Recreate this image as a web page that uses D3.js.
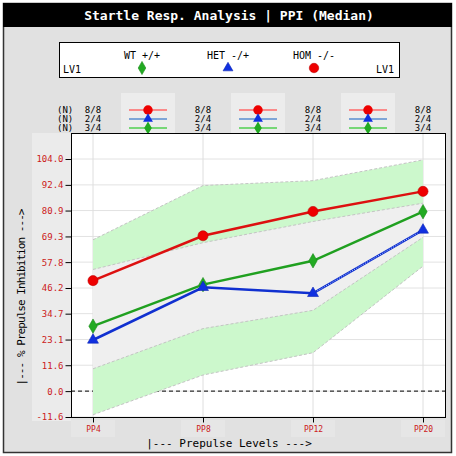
<!DOCTYPE html>
<html>
<head>
<meta charset="utf-8">
<script src="https://cdn.jsdelivr.net/npm/d3@7"></script>
<style>
	body { margin: 0; background: #fff; }
	svg { display: block; }
</style>
</head>
<body>
<svg id="chart"></svg>
<script>
// prepulse levels on the x axis
var levels = ["PP4", "PP8", "PP12", "PP20"];
var yTicks = [-11.6, 0.0, 11.6, 23.1, 34.7, 46.2, 57.8, 69.3, 80.9, 92.4, 104.0];

// medians per genotype
var wtMedian = [29.1, 47.7, 58.4, 80.4];
var hetMedian = [22.9, 46.5, 43.8, 72.2];
var homMedian = [49.5, 69.6, 80.5, 89.5];

// reference ranges (outer = green, inner = grey)
var outerUpper = [67.8, 92.1, 94.3, 103.6];
var outerLower = [-10.6, 7.2, 17.2, 56.0];
var innerUpper = [54.5, 66.5, 76.0, 84.2];
var innerLower = [10.0, 28.0, 36.2, 68.9];

// (N) counts, rows top to bottom: HOM, HET, WT
var nHom = ["8/8", "8/8", "8/8", "8/8"];
var nHet = ["2/4", "2/4", "2/4", "2/4"];
var nWt = ["3/4", "3/4", "3/4", "3/4"];

var legendNames = ["WT +/+", "HET -/+", "HOM -/-"];

var width = 456, height = 456;
var plot = { left: 71, right: 445, top: 133, bottom: 417 };
var mono = "'DejaVu Sans Mono', 'Liberation Mono', monospace";

var svg = d3.select("#chart")
	.attr("width", width)
	.attr("height", height);

// outer panel + title bar
svg.append("rect")
	.attr("x", 3.5).attr("y", 3.5)
	.attr("width", 448).attr("height", 449)
	.style("fill", "#e1e1e1")
	.style("stroke", "#333")
	.style("stroke-width", 1.5);

svg.append("rect")
	.attr("x", 3).attr("y", 3)
	.attr("width", 449).attr("height", 24)
	.style("fill", "#000");

svg.append("text")
	.attr("x", 229).attr("y", 20)
	.attr("text-anchor", "middle")
	.style("font-family", mono)
	.style("font-weight", "bold")
	.style("font-size", "13px")
	.style("fill", "#fff")
	.text("Startle Resp. Analysis | PPI (Median)");

var x = d3.scalePoint()
	.domain(levels)
	.range([plot.left, plot.right])
	.padding(0.2);

var y = d3.scaleLinear()
	.domain([-11.6, 104.0])
	.range([plot.bottom, 159]);

var series = [
	{ name: legendNames[2], values: homMedian, color: "#ee0000", line: "#dd1010", light: "#ff6a6a", symbol: d3.symbolCircle, size: 70, n: nHom },
	{ name: legendNames[1], values: hetMedian, color: "#1030e0", line: "#1030d0", light: "#5a8ed0", symbol: d3.symbolTriangle, size: 42, n: nHet },
	{ name: legendNames[0], values: wtMedian, color: "#22aa22", line: "#20a020", light: "#50d050", symbol: d3.symbolDiamond, size: 50, n: nWt }
];

// legend box
svg.append("rect")
	.attr("x", 59.5).attr("y", 42.5)
	.attr("width", 340).attr("height", 35)
	.style("fill", "#fff")
	.style("stroke", "#000");

svg.append("text")
	.attr("x", 63).attr("y", 73)
	.style("font-family", mono).style("font-size", "10px")
	.text("LV1");
svg.append("text")
	.attr("x", 394).attr("y", 73)
	.attr("text-anchor", "end")
	.style("font-family", mono).style("font-size", "10px")
	.text("LV1");

var legendX = d3.scalePoint().domain(legendNames).range([142, 314]);
var legendSeries = series.slice().reverse();
var leg = svg.append("g").selectAll(".leg")
	.data(legendSeries)
	.enter().append("g")
	.attr("class", "leg");
leg.append("text")
	.attr("x", function (d) { return legendX(d.name); })
	.attr("y", 59)
	.attr("text-anchor", "middle")
	.style("font-family", mono).style("font-size", "10px")
	.text(function (d) { return d.name; });
leg.append("path")
	.attr("transform", function (d) { return "translate(" + legendX(d.name) + ",68)"; })
	.attr("d", function (d) { return d3.symbol().type(d.symbol).size(d.size)(); })
	.style("fill", function (d) { return d.color; })
	.style("stroke", function (d) { return d3.rgb(d.color).darker(0.6); })
	.style("stroke-width", 0.6);

// (N) table rows
var rowY = [110, 119, 128];
series.forEach(function (s, i) {
	svg.append("text")
		.attr("x", 57).attr("y", rowY[i] + 3)
		.style("font-family", mono).style("font-size", "9px")
		.text("(N)");
	svg.append("g").selectAll("text")
		.data(s.n)
		.enter().append("text")
		.attr("x", function (d, j) { return x(levels[j]); })
		.attr("y", rowY[i] + 3)
		.attr("text-anchor", "middle")
		.style("font-family", mono).style("font-size", "9px")
		.text(function (d) { return d; });
});

// small legend blocks between levels
var mids = [];
for (var i = 0; i < levels.length - 1; i++) {
	mids.push((x(levels[i]) + x(levels[i + 1])) / 2);
}
var block = svg.append("g").selectAll(".blk")
	.data(mids)
	.enter().append("g")
	.attr("class", "blk");
block.append("rect")
	.attr("x", function (d) { return d - 27; })
	.attr("y", 93)
	.attr("width", 54).attr("height", 40)
	.style("fill", "#ececec");
series.forEach(function (s, i) {
	block.append("line")
		.attr("x1", function (d) { return d - 19; })
		.attr("x2", function (d) { return d + 19; })
		.attr("y1", rowY[i]).attr("y2", rowY[i])
		.style("stroke", s.light)
		.style("stroke-width", 1.5);
	block.append("path")
		.attr("transform", function (d) { return "translate(" + d + "," + rowY[i] + ")"; })
		.attr("d", d3.symbol().type(s.symbol).size(s.size)())
		.style("fill", s.color);
});

// light strips behind tick labels
svg.append("rect")
	.attr("x", 32).attr("y", plot.top)
	.attr("width", plot.left - 32).attr("height", plot.bottom - plot.top + 4)
	.style("fill", "#ebebeb");
svg.append("g").selectAll("rect")
	.data(levels)
	.enter().append("rect")
	.attr("x", function (d) { return x(d) - 22; })
	.attr("y", 420)
	.attr("width", 44).attr("height", 17)
	.style("fill", "#e6e6e6");

// plot area
svg.append("rect")
	.attr("x", plot.left).attr("y", plot.top)
	.attr("width", plot.right - plot.left).attr("height", plot.bottom - plot.top)
	.style("fill", "#fff");

// grid
svg.append("g").selectAll("line")
	.data(yTicks)
	.enter().append("line")
	.attr("x1", plot.left).attr("x2", plot.right)
	.attr("y1", function (d) { return y(d); })
	.attr("y2", function (d) { return y(d); })
	.style("stroke", "#e2e2e2");
svg.append("g").selectAll("line")
	.data(levels)
	.enter().append("line")
	.attr("x1", function (d) { return x(d); })
	.attr("x2", function (d) { return x(d); })
	.attr("y1", plot.top).attr("y2", plot.bottom)
	.style("stroke", "#dedede");

// zero line
svg.append("line")
	.attr("x1", plot.left).attr("x2", plot.right)
	.attr("y1", y(0)).attr("y2", y(0))
	.style("stroke", "#000")
	.style("stroke-dasharray", "4,3");

// bands
function band(upper, lower) {
	var pts = levels.map(function (d, i) { return { l: d, hi: upper[i], lo: lower[i] }; });
	return pts;
}
var area = d3.area()
	.x(function (d) { return x(d.l); })
	.y0(function (d) { return y(d.lo); })
	.y1(function (d) { return y(d.hi); });
var edgeHi = d3.line().x(function (d) { return x(d.l); }).y(function (d) { return y(d.hi); });
var edgeLo = d3.line().x(function (d) { return x(d.l); }).y(function (d) { return y(d.lo); });

var bands = [
	{ pts: band(outerUpper, outerLower), fill: "#ccf8cc" },
	{ pts: band(innerUpper, innerLower), fill: "#efefef" }
];
bands.forEach(function (b) {
	svg.append("path")
		.attr("d", area(b.pts))
		.style("fill", b.fill);
	[edgeHi, edgeLo].forEach(function (e) {
		svg.append("path")
			.attr("d", e(b.pts))
			.style("fill", "none")
			.style("stroke", "#c4c4c4")
			.style("stroke-dasharray", "3,2");
	});
});

// median lines
var line = d3.line()
	.x(function (d, i) { return x(levels[i]); })
	.y(function (d) { return y(d); });

series.slice().reverse().forEach(function (s) {
	svg.append("path")
		.attr("d", line(s.values))
		.style("fill", "none")
		.style("stroke", s.line)
		.style("stroke-width", 2.5);
});

// HET last segment is drawn hatched
var hetLast = [hetMedian[2], hetMedian[3]];
svg.append("path")
	.attr("d", d3.line()
		.x(function (d, i) { return x(levels[i + 2]); })
		.y(function (d) { return y(d); })(hetLast))
	.style("fill", "none")
	.style("stroke", "#b8d0ff")
	.style("stroke-width", 1)
	.style("stroke-dasharray", "1,1.5");

series.slice().reverse().forEach(function (s) {
	svg.append("g").selectAll("path")
		.data(s.values)
		.enter().append("path")
		.attr("transform", function (d, i) { return "translate(" + x(levels[i]) + "," + y(d) + ")"; })
		.attr("d", d3.symbol().type(s.symbol).size(s.size + 10))
		.style("fill", s.color)
		.style("stroke", d3.rgb(s.color).darker(0.6))
		.style("stroke-width", 0.6);
});

// frame + axes
svg.append("rect")
	.attr("x", plot.left + 0.5).attr("y", plot.top + 0.5)
	.attr("width", plot.right - plot.left).attr("height", plot.bottom - plot.top)
	.style("fill", "none")
	.style("stroke", "#000");

var yAxis = svg.append("g")
	.attr("transform", "translate(" + (plot.left + 0.5) + ",0)")
	.call(d3.axisLeft(y).tickValues(yTicks).tickSize(6).tickPadding(2)
		.tickFormat(function (d) { return d.toFixed(1); }));
yAxis.select(".domain").remove();
yAxis.selectAll("text")
	.style("font-family", mono).style("font-size", "9px")
	.style("fill", "#cc2020");

var xAxis = svg.append("g")
	.attr("transform", "translate(0," + (plot.bottom + 0.5) + ")")
	.call(d3.axisBottom(x).tickSize(5).tickPadding(4));
xAxis.select(".domain").remove();
xAxis.selectAll("text")
	.style("font-family", mono).style("font-size", "8px")
	.style("fill", "#cc2020");

// axis titles
svg.append("text")
	.attr("x", 229).attr("y", 447)
	.attr("text-anchor", "middle")
	.style("font-family", mono).style("font-size", "11px")
	.text("|--- Prepulse Levels --->");

svg.append("text")
	.attr("transform", "translate(25,297) rotate(-90)")
	.attr("text-anchor", "middle")
	.attr("textLength", 177)
	.style("font-family", mono).style("font-size", "11px")
	.text("|--- % Prepulse Inhibition --->");
</script>
</body>
</html>
